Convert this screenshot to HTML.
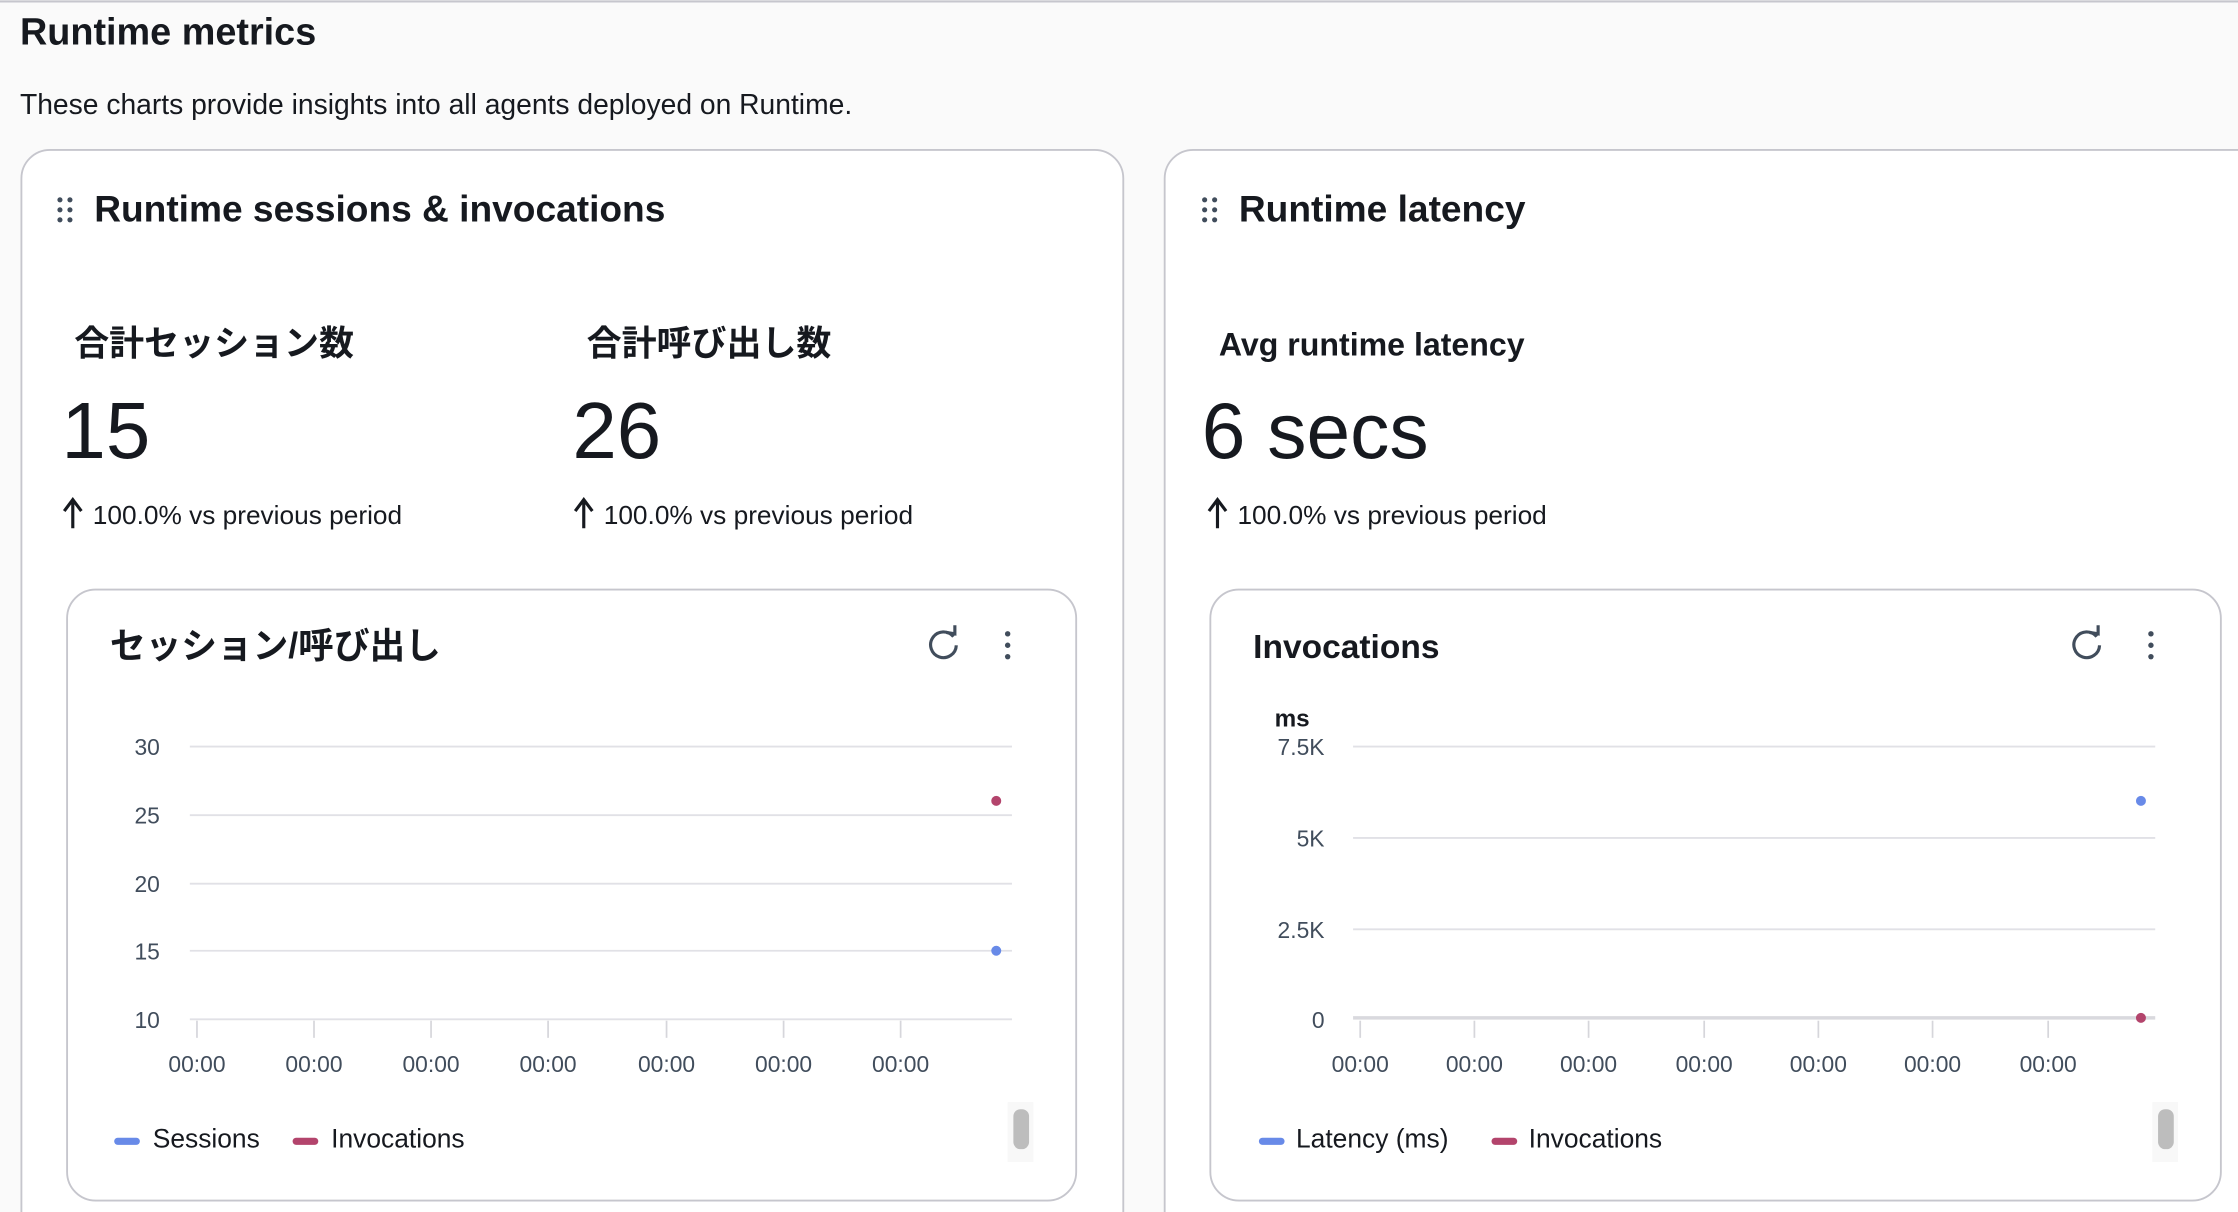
<!DOCTYPE html>
<html><head><meta charset="utf-8"><style>
html,body{margin:0;padding:0;background:#fafafa;}
svg{display:block;}
text{font-family:"Liberation Sans","Noto Sans CJK JP",sans-serif;fill:#16191f;}
</style></head><body>
<svg width="2238" height="1212" viewBox="0 0 1568 849" preserveAspectRatio="none" xmlns="http://www.w3.org/2000/svg">
<rect x="0" y="0" width="1568" height="849" fill="#fafafa"/>
<line x1="0" y1="1" x2="1568" y2="1" stroke="#c6c6cd" stroke-width="1.5"/>
<text x="14" y="31" font-size="26.5" font-weight="bold">Runtime metrics</text>
<text x="14" y="80" font-size="19.8">These charts provide insights into all agents deployed on Runtime.</text>

<!-- Left card -->
<rect x="15" y="105" width="772" height="780" rx="20" fill="#fff" stroke="#c6c6cd" stroke-width="1.3"/>
<g fill="#414d5c"><circle cx="42" cy="140" r="1.8"/><circle cx="49" cy="140" r="1.8"/><circle cx="42" cy="147" r="1.8"/><circle cx="49" cy="147" r="1.8"/><circle cx="42" cy="154" r="1.8"/><circle cx="49" cy="154" r="1.8"/></g>
<text x="66" y="155" font-size="26" font-weight="bold">Runtime sessions &amp; invocations</text>
<text x="52" y="249" font-size="24.5" font-weight="bold">合計セッション数</text>
<text x="411" y="249" font-size="24.5" font-weight="bold">合計呼び出し数</text>
<text x="43" y="321" font-size="56">15</text>
<text x="401" y="321" font-size="56">26</text>
<path d="M51 370 V352 M45 358 L51 350 L57 358" stroke="#16191f" stroke-width="2.2" fill="none"/>
<text x="65" y="367" font-size="18.4">100.0% vs previous period</text>
<path d="M409 370 V352 M403 358 L409 350 L415 358" stroke="#16191f" stroke-width="2.2" fill="none"/>
<text x="423" y="367" font-size="18.4">100.0% vs previous period</text>

<rect x="47" y="413" width="707" height="428" rx="20" fill="#fff" stroke="#c6c6cd" stroke-width="1.3"/>
<text x="77" y="461" font-size="25" font-weight="bold">セッション/呼び出し</text>
<path d="M668 446 A9 9 0 1 0 670 452" stroke="#414d5c" stroke-width="2.2" fill="none"/>
<path d="M663 443 L669 444 L669 438" stroke="#414d5c" stroke-width="2.2" fill="none"/>
<g fill="#414d5c"><circle cx="706" cy="444" r="1.9"/><circle cx="706" cy="452" r="1.9"/><circle cx="706" cy="460" r="1.9"/></g>
<g stroke="#e1e1e6" stroke-width="1.3">
<line x1="133" y1="523" x2="709" y2="523"/><line x1="133" y1="571" x2="709" y2="571"/><line x1="133" y1="619" x2="709" y2="619"/><line x1="133" y1="666" x2="709" y2="666"/><line x1="133" y1="714" x2="709" y2="714"/>
</g>
<g stroke="#d6d6db" stroke-width="1.2">
<line x1="138" y1="715" x2="138" y2="727"/><line x1="220" y1="715" x2="220" y2="727"/><line x1="302" y1="715" x2="302" y2="727"/><line x1="384" y1="715" x2="384" y2="727"/><line x1="467" y1="715" x2="467" y2="727"/><line x1="549" y1="715" x2="549" y2="727"/><line x1="631" y1="715" x2="631" y2="727"/>
</g>
<g font-size="16" text-anchor="end"><text x="112" y="529" style="fill:#414d5c">30</text><text x="112" y="577" style="fill:#414d5c">25</text><text x="112" y="625" style="fill:#414d5c">20</text><text x="112" y="672" style="fill:#414d5c">15</text><text x="112" y="720" style="fill:#414d5c">10</text></g>
<g font-size="16" text-anchor="middle"><text x="138" y="751" style="fill:#414d5c">00:00</text><text x="220" y="751" style="fill:#414d5c">00:00</text><text x="302" y="751" style="fill:#414d5c">00:00</text><text x="384" y="751" style="fill:#414d5c">00:00</text><text x="467" y="751" style="fill:#414d5c">00:00</text><text x="549" y="751" style="fill:#414d5c">00:00</text><text x="631" y="751" style="fill:#414d5c">00:00</text></g>
<circle cx="698" cy="561" r="3.5" fill="#b3446c"/>
<circle cx="698" cy="666" r="3.5" fill="#688ae8"/>
<rect x="80" y="797" width="18" height="5" rx="2.5" fill="#688ae8"/>
<text x="107" y="804" font-size="18.5">Sessions</text>
<rect x="205" y="797" width="18" height="5" rx="2.5" fill="#b3446c"/>
<text x="232" y="804" font-size="18.5">Invocations</text>
<rect x="706" y="772" width="18" height="42" fill="#f8f8f8"/>
<rect x="710" y="777" width="11" height="28" rx="5" fill="#bdbdbd"/>

<!-- Right card -->
<rect x="816" y="105" width="780" height="780" rx="20" fill="#fff" stroke="#c6c6cd" stroke-width="1.3"/>
<g fill="#414d5c"><circle cx="844" cy="140" r="1.8"/><circle cx="851" cy="140" r="1.8"/><circle cx="844" cy="147" r="1.8"/><circle cx="851" cy="147" r="1.8"/><circle cx="844" cy="154" r="1.8"/><circle cx="851" cy="154" r="1.8"/></g>
<text x="868" y="155" font-size="26" font-weight="bold">Runtime latency</text>
<text x="854" y="249" font-size="22.5" font-weight="bold">Avg runtime latency</text>
<text x="842" y="321" font-size="55">6 secs</text>
<path d="M853 370 V352 M847 358 L853 350 L859 358" stroke="#16191f" stroke-width="2.2" fill="none"/>
<text x="867" y="367" font-size="18.4">100.0% vs previous period</text>

<rect x="848" y="413" width="708" height="428" rx="20" fill="#fff" stroke="#c6c6cd" stroke-width="1.3"/>
<text x="878" y="461" font-size="23.5" font-weight="bold">Invocations</text>
<path d="M1469 446 A9 9 0 1 0 1471 452" stroke="#414d5c" stroke-width="2.2" fill="none"/>
<path d="M1464 443 L1470 444 L1470 438" stroke="#414d5c" stroke-width="2.2" fill="none"/>
<g fill="#414d5c"><circle cx="1507" cy="444" r="1.9"/><circle cx="1507" cy="452" r="1.9"/><circle cx="1507" cy="460" r="1.9"/></g>
<text x="893" y="509" font-size="17" font-weight="bold">ms</text>
<g stroke="#e1e1e6" stroke-width="1.3">
<line x1="948" y1="523" x2="1510" y2="523"/><line x1="948" y1="587" x2="1510" y2="587"/><line x1="948" y1="651" x2="1510" y2="651"/>
</g>
<line x1="948" y1="713" x2="1510" y2="713" stroke="#d9d9de" stroke-width="2.5"/>
<g stroke="#d6d6db" stroke-width="1.2">
<line x1="953" y1="715" x2="953" y2="727"/><line x1="1033" y1="715" x2="1033" y2="727"/><line x1="1113" y1="715" x2="1113" y2="727"/><line x1="1194" y1="715" x2="1194" y2="727"/><line x1="1274" y1="715" x2="1274" y2="727"/><line x1="1354" y1="715" x2="1354" y2="727"/><line x1="1435" y1="715" x2="1435" y2="727"/>
</g>
<g font-size="16" text-anchor="end"><text x="928" y="529" style="fill:#414d5c">7.5K</text><text x="928" y="593" style="fill:#414d5c">5K</text><text x="928" y="657" style="fill:#414d5c">2.5K</text><text x="928" y="720" style="fill:#414d5c">0</text></g>
<g font-size="16" text-anchor="middle"><text x="953" y="751" style="fill:#414d5c">00:00</text><text x="1033" y="751" style="fill:#414d5c">00:00</text><text x="1113" y="751" style="fill:#414d5c">00:00</text><text x="1194" y="751" style="fill:#414d5c">00:00</text><text x="1274" y="751" style="fill:#414d5c">00:00</text><text x="1354" y="751" style="fill:#414d5c">00:00</text><text x="1435" y="751" style="fill:#414d5c">00:00</text></g>
<circle cx="1500" cy="561" r="3.5" fill="#688ae8"/>
<circle cx="1500" cy="713" r="3.5" fill="#b3446c"/>
<rect x="882" y="797" width="18" height="5" rx="2.5" fill="#688ae8"/>
<text x="908" y="804" font-size="18.5">Latency (ms)</text>
<rect x="1045" y="797" width="18" height="5" rx="2.5" fill="#b3446c"/>
<text x="1071" y="804" font-size="18.5">Invocations</text>
<rect x="1508" y="772" width="18" height="42" fill="#f8f8f8"/>
<rect x="1512" y="777" width="11" height="28" rx="5" fill="#bdbdbd"/>
</svg>
</body></html>
